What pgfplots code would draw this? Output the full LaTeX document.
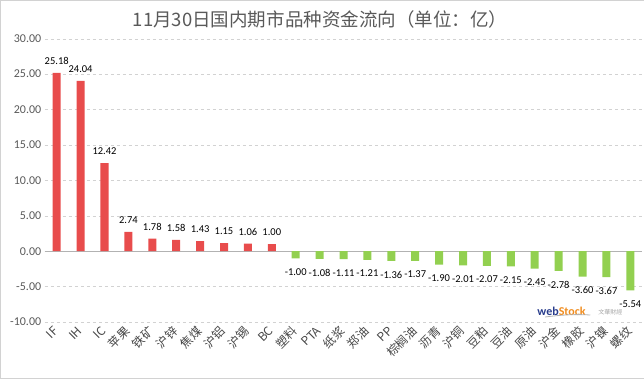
\documentclass[border=0pt]{standalone}
\usepackage{pgfplots}
\pgfplotsset{compat=1.18}
\usepackage{fontspec}
\setmainfont{Carlito}
\newfontfamily\cjk{Noto Sans CJK SC}
\definecolor{barred}{RGB}{232,76,76}
\definecolor{bargreen}{RGB}{146,208,80}
\definecolor{titlegray}{RGB}{89,89,89}
\definecolor{gridgray}{RGB}{210,210,210}
\begin{document}
\begin{tikzpicture}[x=1pt,y=1pt]
\draw[gray!35] (0.5,0.5) rectangle (643.5,378.5);
\node[font=\cjk\fontsize{18.5}{22}\selectfont, text=titlegray] at (320,359) {11月30日国内期市品种资金流向（单位：亿）};
\begin{axis}[
  at={(45pt,57pt)}, anchor=south west,
  scale only axis, width=597pt, height=283pt,
  ymin=-10, ymax=30, ytick={-10,-5,0,5,10,15,20,25,30},
  xmin=-0.5, xmax=24.5,
  xtick={0,...,24},
  xticklabels={IF,IH,IC,苹果,铁矿,沪锌,焦煤,沪铝,沪锡,BC,塑料,PTA,纸浆,郑油,PP,棕榈油,沥青,沪铜,豆粕,豆油,原油,沪金,橡胶,沪镍,螺纹},
  xticklabel style={font=\cjk\fontsize{12}{14}\selectfont, rotate=45, anchor=east, text=titlegray!80!black, inner sep=1pt},
  xticklabel shift=6pt,
  yticklabel style={font=\fontsize{12}{14}\selectfont, text=titlegray},
  yticklabel={\pgfmathprintnumber[fixed,zerofill,precision=2,assume math mode=true]{\tick}},
  axis line style={draw=none}, major tick length=0pt,
  ymajorgrids, grid style={dashed, draw=gridgray},
  extra y ticks={0}, extra y tick labels={},
  extra y tick style={grid style={solid, draw=gray!60}},
  ybar, bar width=8pt,
  nodes near coords={\pgfmathprintnumber[fixed,zerofill,precision=2,assume math mode=true]{\pgfplotspointmeta}},
  every node near coord/.append style={font=\fontsize{10.5}{12}\selectfont, text=black, inner sep=2pt},
  clip=false,
]
\addplot[fill=barred, draw=none, bar shift=0pt, every node near coord/.append style={yshift=6pt}] coordinates {
(0,25.18) (1,24.04) (2,12.42) (3,2.74) (4,1.78) (5,1.58) (6,1.43) (7,1.15) (8,1.06) (9,1.00)};
\addplot[fill=bargreen, draw=none, bar shift=0pt, every node near coord/.append style={yshift=-8pt}] coordinates {
(10,-1.00) (11,-1.08) (12,-1.11) (13,-1.21) (14,-1.36) (15,-1.37) (16,-1.90) (17,-2.01) (18,-2.07) (19,-2.15) (20,-2.45) (21,-2.78) (22,-3.60) (23,-3.67) (24,-5.54)};
\end{axis}
\node[anchor=west, font=\bfseries\fontsize{12}{13}\selectfont, inner sep=0] at (537,68) {\textcolor[RGB]{40,60,140}{web}\textcolor[RGB]{240,140,30}{Stock}};
\draw[gray!60, line width=0.8pt] (545,62) .. controls (560,64) and (575,65) .. (590,64);
\node[anchor=west, font=\cjk\fontsize{6}{7}\selectfont, text=gray!70, inner sep=0] at (598,67) {文華財經};
\end{tikzpicture}
\end{document}
